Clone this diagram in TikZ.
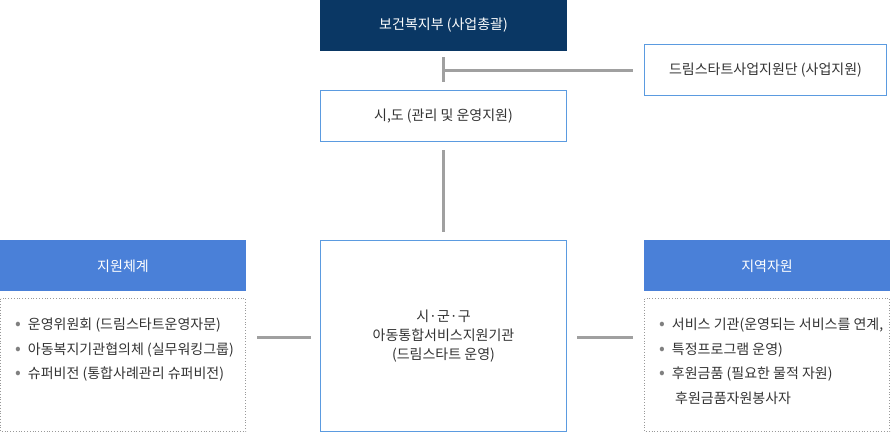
\documentclass[tikz,border=0pt]{standalone}
\usepackage{fontspec}
\setmainfont{Noto Sans CJK KR}
\definecolor{navy}{HTML}{0A3764}
\definecolor{hblue}{HTML}{4A80D8}
\definecolor{bline}{HTML}{5B9BE0}
\definecolor{txt}{HTML}{333333}
\definecolor{conn}{HTML}{A0A0A0}
\begin{document}
\begin{tikzpicture}[x=1pt,y=-1pt,
  every node/.style={font=\fontsize{14}{24.5}\selectfont,text=txt},
  box/.style={draw=bline,line width=0.8pt,fill=white},
  head/.style={fill=hblue},
  dotbox/.style={draw=gray!80,dotted,line width=0.8pt},
  conline/.style={draw=conn,line width=3pt}]
\newcommand{\bul}{{\color{gray}\fontsize{17}{17}\selectfont •}\hspace{7pt}}
\useasboundingbox (0,0) rectangle (891,434);
\fill[navy] (320,0) rectangle (567,51);
\node[text=white] (top) at (443.5,25.5) {보건복지부 (사업총괄)};
\draw[box] (644.5,44.5) rectangle (886.5,95.5);
\node (dsup) at (765.5,70) {드림스타트사업지원단 (사업지원)};
\draw[box] (320.5,90.5) rectangle (566.5,141.5);
\node (sido) at (443.5,116) {시,도 (관리 및 운영지원)};
\draw[box] (320.5,240.5) rectangle (566.5,431.5);
\node[align=center,font=\fontsize{14}{19}\selectfont] (center) at (443.5,336) {시·군·구\\아동통합서비스지원기관\\(드림스타트 운영)};
\fill[head] (0,240) rectangle (246,291);
\node[text=white] (lh) at (123,266) {지원체계};
\fill[head] (644,240) rectangle (890,291);
\node[text=white] (rh) at (767,266) {지역자원};
\draw[dotbox] (0.5,298.5) rectangle (245.5,431.5);
\draw[dotbox] (644.5,298.5) rectangle (889.5,431.5);
\node[align=left,anchor=north west,inner sep=0pt] (ll) at (15,318) {%
\bul 운영위원회 (드림스타트운영자문)\\
\bul 아동복지기관협의체 (실무워킹그룹)\\
\bul 슈퍼비전 (통합사례관리 슈퍼비전)};
\node[align=left,anchor=north west,inner sep=0pt] (rl) at (659,318) {%
\bul 서비스 기관(운영되는 서비스를 연계,\\
\bul 특정프로그램 운영)\\
\bul 후원금품 (필요한 물적 자원)\\
\hspace{16pt}후원금품자원봉사자};
\coordinate (a1) at (443,57); \coordinate (a2) at (443,82);
\coordinate (j) at (443,70); \coordinate (b) at (633,70);
\draw[conline] (a1) -- (a2);
\draw[conline] (j) -- (b);
\coordinate (c1) at (443,150); \coordinate (c2) at (443,232);
\draw[conline] (c1) -- (c2);
\coordinate (l1) at (257,337); \coordinate (l2) at (311,337);
\draw[conline] (l1) -- (l2);
\coordinate (r1) at (577,337); \coordinate (r2) at (633,337);
\draw[conline] (r1) -- (r2);
\end{tikzpicture}
\end{document}
